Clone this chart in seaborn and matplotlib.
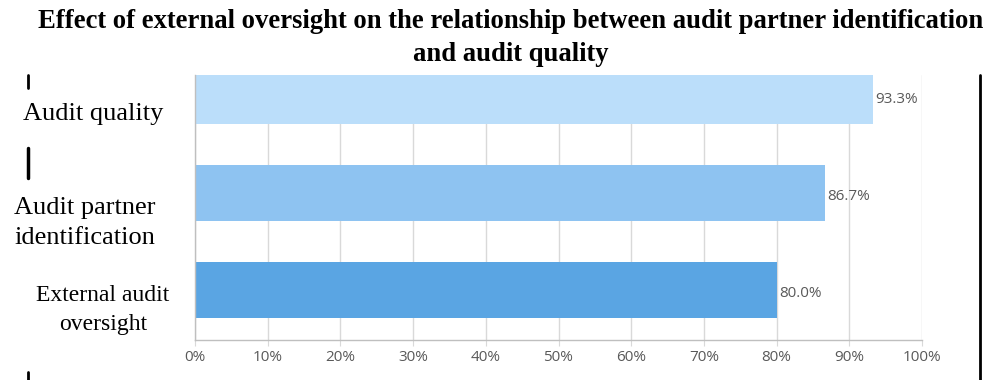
import matplotlib
matplotlib.use("Agg")
import matplotlib.pyplot as plt
import seaborn as sns
import pandas as pd
from matplotlib.lines import Line2D

categories = ["Audit quality", "Audit partner identification", "External audit oversight"]
label_texts = ["Audit quality", "Audit partner\nidentification", "External audit\noversight"]
values = [93.3, 86.7, 80.0]
value_labels = ["93.3%", "86.7%", "80.0%"]
colors = ["#BBDEFA", "#8EC3F1", "#5AA5E3"]
xticks = [0, 10, 20, 30, 40, 50, 60, 70, 80, 90, 100]
xtick_labels = ["0%", "10%", "20%", "30%", "40%", "50%", "60%", "70%", "80%", "90%", "100%"]
title = "Effect of external oversight on the relationship between audit partner identification\nand audit quality"

sns.set_style("white")
df = pd.DataFrame({"cat": categories, "val": values})

fig = plt.figure(figsize=(9.89, 3.80), dpi=100)
ax = fig.add_axes([195/989, 1-340/380, (922-195)/989, (340-75)/380])
sns.barplot(data=df, y="cat", x="val", hue="cat", palette=colors, legend=False,
            orient="h", width=0.57, saturation=1, ax=ax, zorder=2)
for p in ax.patches:
    p.set_edgecolor("none")

ax.set_xlim(0, 100)
ax.set_ylim(2.515, -0.216)
ax.set_xticks(xticks)
ax.set_xticklabels(xtick_labels, color="#595959", fontsize=11, family="Open Sans")
ax.set_yticks([])
ax.set_xlabel("")
ax.set_ylabel("")
ax.grid(axis="x", color="#D9D9D9", linewidth=1, zorder=0)
ax.set_axisbelow(True)
for s in ["top", "right"]:
    ax.spines[s].set_visible(False)
for s in ["bottom", "left"]:
    ax.spines[s].set_color("#BFBFBF")
    ax.spines[s].set_linewidth(1)
ax.tick_params(axis="x", length=4, color="#D9D9D9", pad=3, direction="out", bottom=True)

for i, (v, lab) in enumerate(zip(values, value_labels)):
    ax.text(v + 0.3, i + 0.04, lab, va="center", ha="left", color="#595959",
            fontsize=11, family="Open Sans")

fig.text(511/989, 1-38/380, title, ha="center", va="center", fontsize=19.2,
         fontweight="bold", family="Liberation Serif", linespacing=1.45, color="black")

label_pos = [(93, 114, 19, 1.3), (85, 223, 19, 1.5), (103, 310, 17, 1.45)]
for t, (x, y, fs, ls) in zip(label_texts, label_pos):
    fig.text(x/989, 1-y/380, t, ha="center", va="center", fontsize=fs,
             family="Liberation Serif", linespacing=ls, color="black")

# decorative black bars from the original image
for (x, y0, y1, lw) in [(28, 75, 88, 2), (28, 148, 178, 2.5), (28, 372, 380, 2), (980, 75, 380, 2)]:
    fig.add_artist(Line2D([x/989, x/989], [1-y0/380, 1-y1/380], color="black", lw=lw))

fig.savefig("out.png", dpi=100)
